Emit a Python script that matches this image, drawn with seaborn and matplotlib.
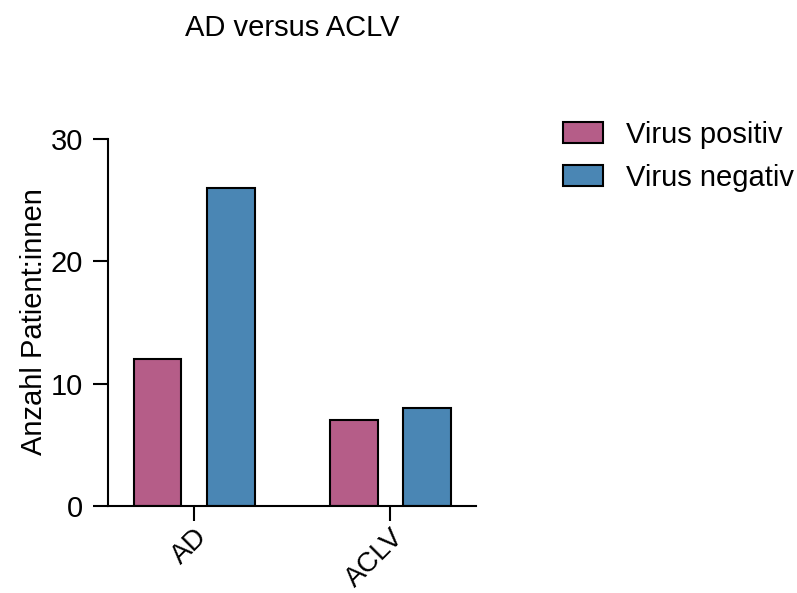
import matplotlib
matplotlib.use("Agg")
import matplotlib.pyplot as plt
import seaborn as sns
import pandas as pd

# Patient counts per diagnosis, split by virus status
categories = ["AD", "ACLV"]
status_levels = ["Virus positiv", "Virus negativ"]
virus_positiv = [12, 7]
virus_negativ = [26, 8]
y_ticks = [0, 10, 20, 30]

colors = ["#B55D88", "#4A86B4"]

sns.set_style("ticks")
plt.rcParams["font.family"] = ["Liberation Sans", "DejaVu Sans"]
plt.rcParams["axes.linewidth"] = 1.5
plt.rcParams["text.color"] = "black"

df = pd.DataFrame({
    "Gruppe": categories * 2,
    "Status": [status_levels[0]] * len(categories) + [status_levels[1]] * len(categories),
    "Anzahl": virus_positiv + virus_negativ,
})

fig = plt.figure(figsize=(7.97, 5.93), dpi=100)
ax = fig.add_axes([108 / 797, 1 - 506 / 593, (476 - 108) / 797, (506 - 139) / 593])

sns.barplot(
    data=df, x="Gruppe", y="Anzahl", hue="Status",
    order=categories, hue_order=status_levels, palette=colors,
    width=0.745, gap=0.35, edgecolor="black", linewidth=1.5,
    saturation=1, ax=ax, legend=True,
)

ax.set_xlim(-0.44, 1.437)
ax.set_ylim(0, 30)
ax.set_yticks(y_ticks)
ax.set_yticklabels([str(v) for v in y_ticks], fontsize=21, color="black")
ax.set_xticks(range(len(categories)))
ax.set_xticklabels(categories, fontsize=20, rotation=45, ha="right",
                   rotation_mode="anchor", color="black")
ax.tick_params(axis="both", length=11, width=1.5, color="black", labelcolor="black")
ax.tick_params(axis="y", pad=7)
ax.tick_params(axis="x", pad=2)
sns.despine(ax=ax)
ax.spines["left"].set_color("black")
ax.spines["bottom"].set_color("black")

ax.set_xlabel("")
ax.set_ylabel("")
fig.text(34 / 797, 1 - 322 / 593, "Anzahl Patient:innen", rotation=90,
         ha="center", va="center", fontsize=21, color="black")
fig.text(292 / 797, 1 - 36 / 593, "AD versus ACLV", ha="center", va="baseline",
         fontsize=21, color="black")

handles, labels = ax.get_legend_handles_labels()
ax.get_legend().remove()
leg = fig.legend(handles, labels, loc="upper left", bbox_to_anchor=(563 / 797, 1 - 121 / 593),
                 frameon=False, fontsize=21, borderpad=0, borderaxespad=0,
                 handlelength=1.36, handleheight=0.72, handletextpad=0.8, labelspacing=0.5)
for t in leg.get_texts():
    t.set_color("black")

fig.savefig("out.png", dpi=100)
